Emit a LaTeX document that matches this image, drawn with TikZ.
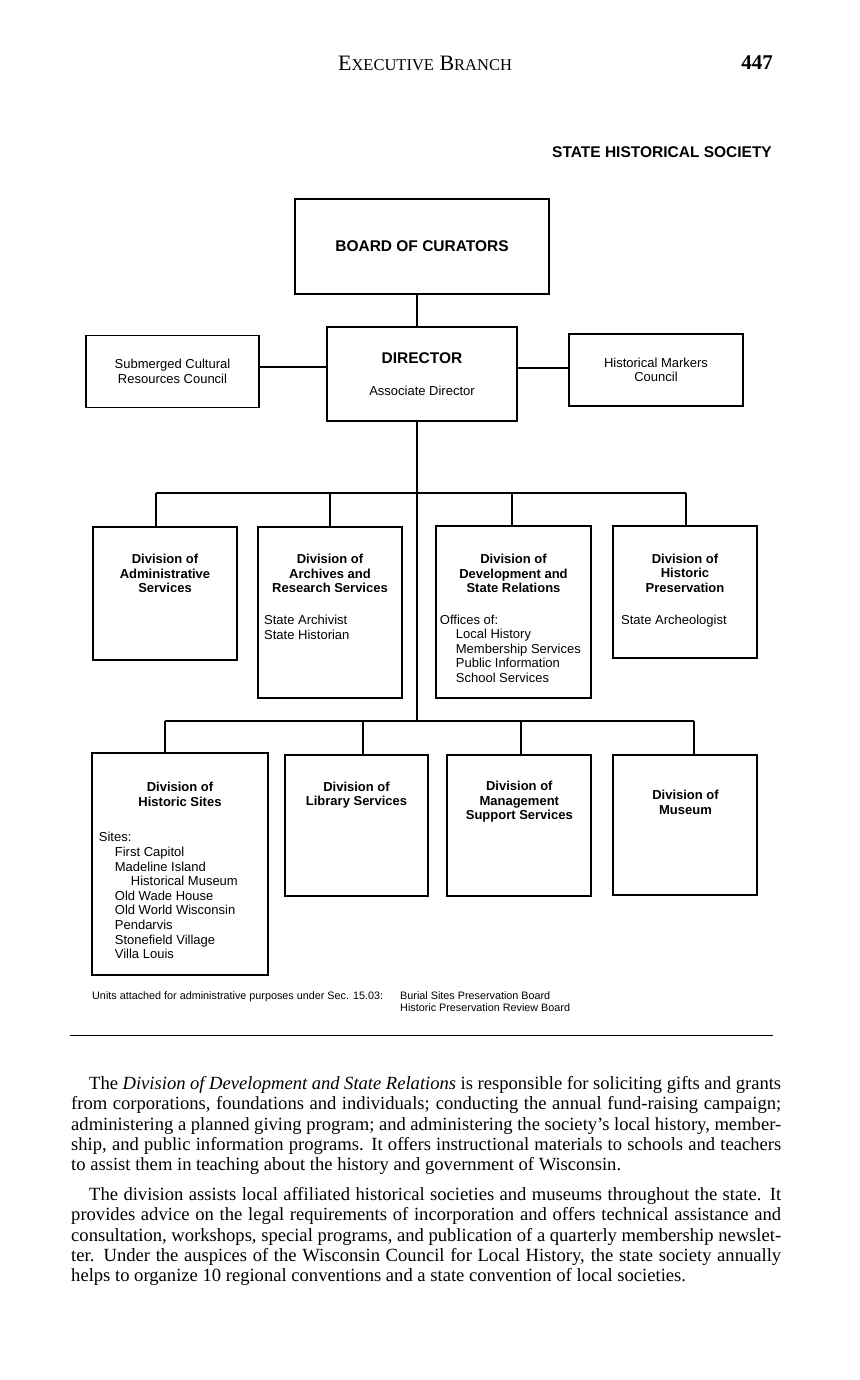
\documentclass[tikz,border=0pt]{standalone}
\usepackage{fontspec}
\setmainfont{Liberation Serif}
\newfontfamily\hv{Liberation Sans}
\usetikzlibrary{positioning}
\newcommand{\ind}{\hspace*{16pt}}

\begin{document}
\begin{tikzpicture}[x=1pt, y=-1pt,
  unit/.style={draw, line width=1.6pt, inner sep=0pt},
  link/.style={line width=1.6pt},
  head/.style={font=\hv\bfseries\fontsize{13}{14.5}\selectfont, align=center, inner sep=0pt, anchor=north},
  list/.style={font=\hv\fontsize{13}{14.5}\selectfont, align=left, inner sep=0pt, anchor=north west},
  foot/.style={font=\hv\fontsize{10.8}{12}\selectfont, align=left, inner sep=0pt},
  body/.style={font=\fontsize{18.6}{20.2}\selectfont, text width=710pt, align=justify, inner sep=0pt, anchor=north west}]
  \useasboundingbox (0,0) rectangle (859,1380);

  % Running head
  \node[font=\fontsize{22}{22}\selectfont, anchor=base, inner sep=0pt] (runhead) at (425,71)
    {E{\fontsize{16.5}{22}\selectfont XECUTIVE} B{\fontsize{16.5}{22}\selectfont RANCH}};
  \node[font=\bfseries\fontsize{21}{21}\selectfont, anchor=base east, inner sep=0pt] (pageno) at (773,70) {447};
  \node[font=\hv\bfseries\fontsize{15.5}{15.5}\selectfont, anchor=base east, inner sep=0pt] (title) at (772,158) {STATE HISTORICAL SOCIETY};

  % Board, director and councils
  \node[unit, minimum width=254pt, minimum height=95pt, font=\hv\bfseries\fontsize{15.5}{15.5}\selectfont] (board) at (422,246.5) {BOARD OF CURATORS};
  \node[unit, minimum width=190pt, minimum height=94pt] (dir) at (422,374) {};
  \node[font=\hv\bfseries\fontsize{15.5}{15.5}\selectfont, inner sep=0pt] (dirname) at (422,357.7) {DIRECTOR};
  \node[font=\hv\fontsize{13}{14.5}\selectfont, inner sep=0pt] (assoc) at (422,391) {Associate Director};
  \node[unit, minimum width=173pt, minimum height=72pt, font=\hv\fontsize{13}{14.5}\selectfont, align=center] (subm) at (172.5,371.5) {Submerged Cultural\\Resources Council};
  \node[unit, minimum width=174pt, minimum height=72pt, font=\hv\fontsize{13}{14.5}\selectfont, align=center] (markers) at (656,370) {Historical Markers\\Council};

  \coordinate (spine) at (417,0);
  \coordinate (bus2) at (0,721);
  \draw[link] (board.south -| spine) -- (dir.north -| spine);
  \coordinate (jl) at ([yshift=4.5pt]subm.east);
  \draw[link] (jl) -- (jl -| dir.west);
  \coordinate (jr) at ([yshift=2pt]markers.west);
  \draw[link] (jr -| dir.east) -- (jr);
  \draw[link] (dir.south -| spine) -- (spine |- bus2);

  % First row of divisions
  \node[unit, minimum width=144pt, minimum height=133pt] (admin) at (165,593.5) {};
  \node[unit, minimum width=144pt, minimum height=171pt] (archives) at (330,612.5) {};
  \node[unit, minimum width=155pt, minimum height=172pt] (devel) at (513.5,612) {};
  \node[unit, minimum width=144pt, minimum height=132pt] (histpres) at (685,592) {};

  \node[head] (adminhd) at (165,554.3) {Division of\\Administrative\\Services};
  \node[head] (archiveshd) at (330,554.3) {Division of\\Archives and\\Research Services};
  \node[head] (develhd) at (513.5,554.3) {Division of\\Development and\\State Relations};
  \node[head] (histpreshd) at (685,553.5) {Division of\\Historic\\Preservation};

  \node[list] (archiveslst) at (264,615.3) {State Archivist\\State Historian};
  \node[list] (devellst) at (439.7,614.7) {Offices of:\\\ind Local History\\\ind Membership Services\\\ind Public Information\\\ind School Services};
  \node[list] (histpreslst) at (621,615) {State Archeologist};

  \foreach \b/\x in {admin/156, archives/330, devel/512, histpres/686} {
    \coordinate (top\b) at (\x,493);
    \draw[link] (top\b) -- (top\b |- \b.north);
  }
  \draw[link] (topadmin) -- (tophistpres);

  % Second row of divisions
  \node[unit, minimum width=176pt, minimum height=222pt] (sites) at (180,864) {};
  \node[unit, minimum width=143pt, minimum height=141pt] (library) at (356.5,825.5) {};
  \node[unit, minimum width=144pt, minimum height=141pt] (mgmt) at (519,825.5) {};
  \node[unit, minimum width=144pt, minimum height=140pt] (museum) at (685,825) {};

  \node[head] (siteshd) at (180,782.3) {Division of\\Historic Sites};
  \node[head] (libraryhd) at (356.5,781.7) {Division of\\Library Services};
  \node[head] (mgmthd) at (519.3,781.3) {Division of\\Management\\Support Services};
  \node[head] (museumhd) at (685.5,790) {Division of\\Museum};

  \node[list, font=\hv\fontsize{13}{14.6}\selectfont] (siteslst) at (98.7,832.3) {Sites:\\\ind First Capitol\\\ind Madeline Island\\\ind\ind Historical Museum\\\ind Old Wade House\\\ind Old World Wisconsin\\\ind Pendarvis\\\ind Stonefield Village\\\ind Villa Louis};

  \foreach \b/\x in {sites/165, library/363, mgmt/521, museum/694} {
    \coordinate (top\b) at (\x,721);
    \draw[link] (top\b) -- (top\b |- \b.north);
  }
  \draw[link] (topsites) -- (topmuseum);

  % Attached units
  \node[foot, anchor=base west] (units) at (92,999.5) {Units attached for administrative purposes under Sec. 15.03:};
  \coordinate (fcol) at (400,0);
  \node[foot, anchor=north west] (boards) at (units.north -| fcol) {Burial Sites Preservation Board\\Historic Preservation Review Board};

  \draw[line width=1.1pt] (70,1035.5) -- (773,1035.5);

  % Text below the chart
  \node[body] (para1) at (71,1076.3) {\hspace*{18pt}The \textit{Division of Development and State Relations} is responsible for soliciting gifts and grants\linebreak
    from corporations, foundations and individuals; conducting the annual fund-raising campaign;\linebreak
    administering a planned giving program; and administering the society's local history, member-\linebreak
    ship, and public information programs. It offers instructional materials to schools and teachers\linebreak
    to assist them in teaching about the history and government of Wisconsin.};
  \node[body] (para2) at (71,1187.3) {\hspace*{18pt}The division assists local affiliated historical societies and museums throughout the state. It\linebreak
    provides advice on the legal requirements of incorporation and offers technical assistance and\linebreak
    consultation, workshops, special programs, and publication of a quarterly membership newslet-\linebreak
    ter. Under the auspices of the Wisconsin Council for Local History, the state society annually\linebreak
    helps to organize 10 regional conventions and a state convention of local societies.};
\end{tikzpicture}
\end{document}
